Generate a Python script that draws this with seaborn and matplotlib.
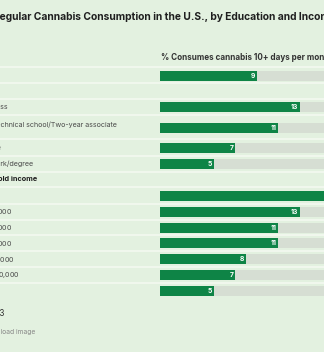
import numpy as np
import pandas as pd
import matplotlib
matplotlib.use("Agg")
import matplotlib.pyplot as plt
import matplotlib.transforms as mtransforms
import seaborn as sns

# ---------------- data ----------------
title = "Regular Cannabis Consumption in the U.S., by Education and Income"
subtitle = "% Consumes cannabis 10+ days per month"
overall_labels = ["U.S. adults"]
overall_values = [9]
edu_header = "Education"
edu_labels = ["High school or less",
              "Some college/Technical school/Two-year associate\ndegree",
              "College graduate",
              "Postgraduate work/degree"]
edu_values = [13, 11, 7, 5]
inc_header = "Annual household income"
inc_labels = ["Under $24,000", "$24,000 to <$48,000", "$48,000 to <$60,000",
              "$60,000 to <$90,000", "$90,000 to <$120,000",
              "$120,000 to <$180,000", "$180,000+"]
inc_values = [16, 13, 11, 11, 8, 7, 5]
source = "GALLUP, JULY 3-27, 2023"
link_text = "Download image"

# ---------------- layout / style ----------------
W, H = 324, 352
BG = "#e3f1e0"
GREEN = "#0e8446"
GRAY = "#d6ded3"
SEP = "#f4f9f2"
overall_y = [76]
edu_header_y = 91
edu_y = [107, 128, 148, 164]
inc_header_y = 179
inc_y = list(196 + 15.8 * np.arange(len(inc_values)))
sep_y = [67, 83, 99, 115, 139, 156, 172, 187, 204, 220, 235, 251, 267, 283]
bar_x0 = 160          # pixel where bars start
px_per_unit = 10.75   # bar scale
bar_h = 10            # bar thickness in px

sns.set_theme(style="white")
plt.rcParams["font.family"] = ["Inter", "DejaVu Sans"]

fig = plt.figure(figsize=(W / 100, H / 100), dpi=100, facecolor=BG)
bg = fig.add_axes([0, 0, 1, 1])
bg.set_xlim(0, W)
bg.set_ylim(H, 0)
bg.axis("off")
bg.set_facecolor(BG)
renderer = fig.canvas.get_renderer()


def tw(s, size, weight="normal"):
    t = bg.text(0, 0, s, fontsize=size, fontweight=weight)
    w = t.get_window_extent(renderer).width
    t.remove()
    return w


# separators
for y in sep_y:
    bg.axhline(y, color=SEP, lw=1.1, zorder=1)

# title (cropped at left and right, as in the reference)
vis_title = title[1:63]
fs_t = 10 * 321 / tw(vis_title, 10, "bold")
x_t = -(tw(title[:63], fs_t, "bold") - tw(vis_title, fs_t, "bold"))
bg.text(x_t, 17, title, fontsize=fs_t, fontweight="bold", color="#1f1f1f",
        ha="left", va="center")

# subtitle
vis_sub = subtitle[:36]
fs_s = 10 * 163 / tw(vis_sub, 10, "bold")
bg.text(161, 58, subtitle, fontsize=fs_s, fontweight="bold", color="#333333",
        ha="left", va="center")

# row labels (left column, cropped)
ref_full = "Some college/Technical school/Two-year associate"
ref_vis = "chnical school/Two-year associate"
fs_l = 10 * 118 / tw(ref_vis, 10)
x_l = -(tw(ref_full, fs_l) - tw(ref_vis, fs_l))

all_labels = overall_labels + edu_labels + inc_labels
all_values = overall_values + edu_values + inc_values
all_y = overall_y + edu_y + inc_y
for lab, y in zip(all_labels, all_y):
    bg.text(x_l, y, lab, fontsize=fs_l, color="#4a4a4a", ha="left",
            va="center", linespacing=1.25)
for lab, y in [(edu_header, edu_header_y), (inc_header, inc_header_y)]:
    bg.text(x_l, y, lab, fontsize=fs_l * 1.03, fontweight="bold",
            color="#1f1f1f", ha="left", va="center")

# footer
bg.text(4.5, 313, source, fontsize=fs_l * 1.15, color="#333333", ha="right",
        va="center")
bg.text(35, 332, link_text, fontsize=fs_l * 0.95, color="#888888",
        ha="right", va="center")

# ---------------- bars via seaborn ----------------
bx = fig.add_axes([bar_x0 / W, 0, 1.0, 1])
bx.patch.set_alpha(0)
df = pd.DataFrame({"label": all_labels, "value": all_values, "y": all_y})
df["full"] = 100
min_gap = np.min(np.diff(np.sort(df["y"].values)))
wfrac = bar_h / min_gap
sns.barplot(data=df, x="full", y="y", orient="h", native_scale=True,
            width=wfrac, color=GRAY, saturation=1, linewidth=0, ax=bx)
sns.barplot(data=df, x="value", y="y", orient="h", native_scale=True,
            width=wfrac, color=GREEN, saturation=1, linewidth=0, ax=bx)
bx.set_xlim(0, W / px_per_unit)
bx.set_ylim(H, 0)
bx.axis("off")

off = mtransforms.offset_copy(bx.transData, fig=fig, x=-1.6, y=0, units="dots")
for v, y in zip(df["value"], df["y"]):
    bx.text(v, y, str(v), transform=off, ha="right", va="center",
            fontsize=fs_l * 0.95, fontweight="bold", color="white",
            clip_on=False)

fig.savefig("out.png", dpi=100, facecolor=BG)
